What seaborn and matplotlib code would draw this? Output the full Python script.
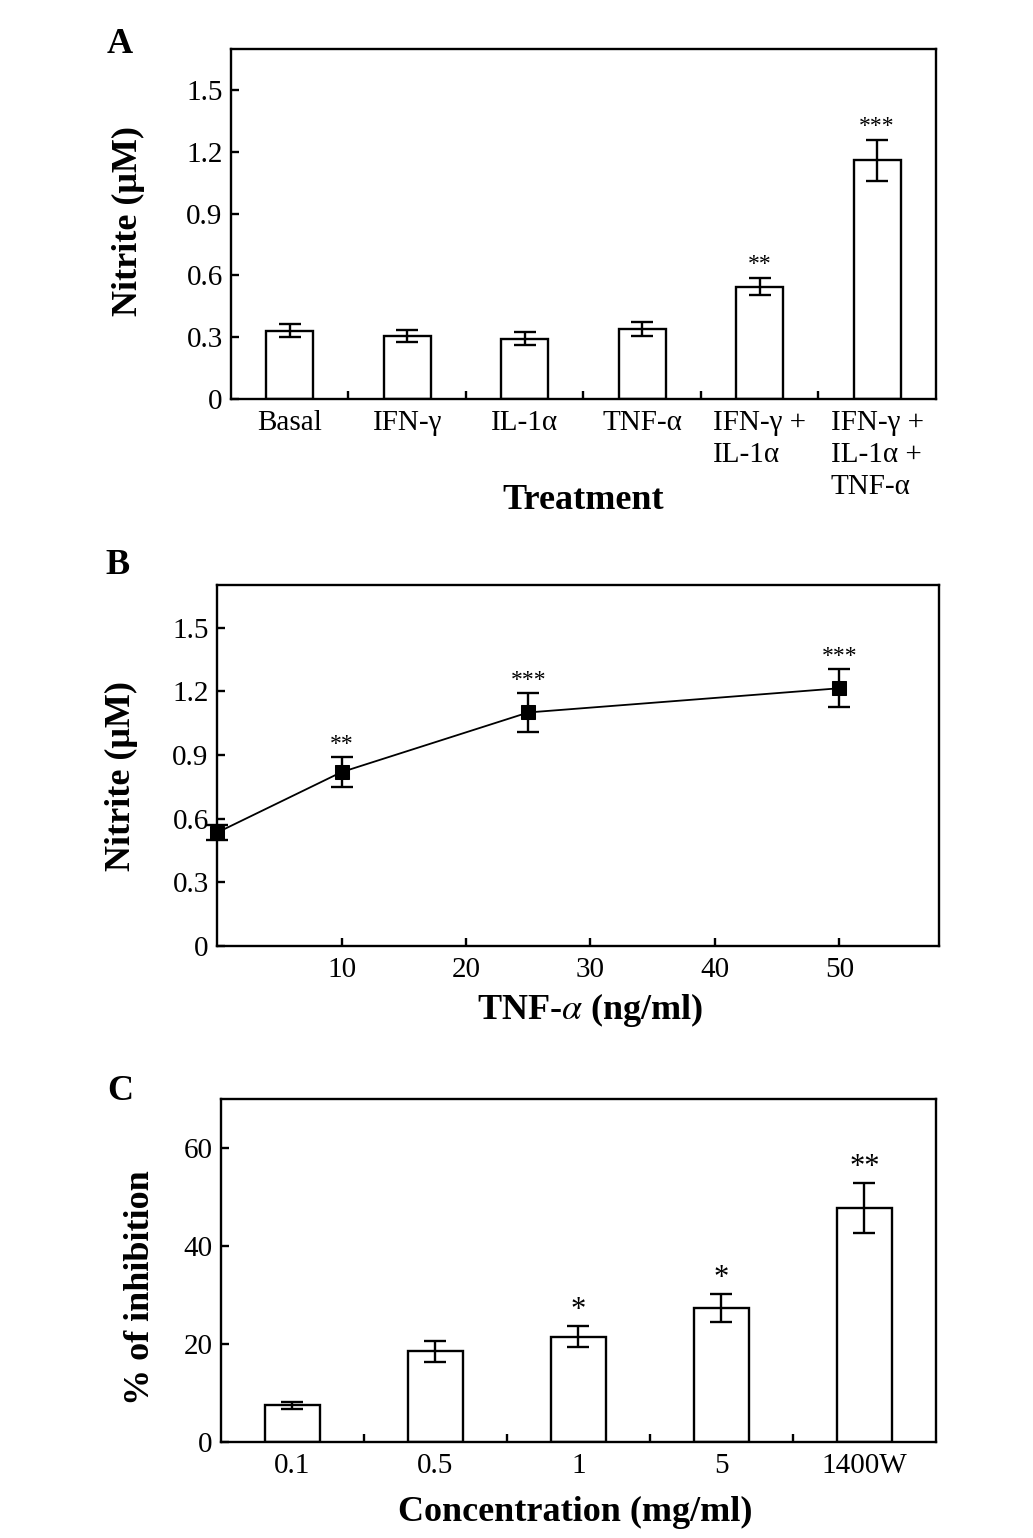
import numpy as np
import pandas as pd
import matplotlib
matplotlib.use("Agg")
import matplotlib.pyplot as plt
from matplotlib.ticker import FixedLocator, FixedFormatter
import seaborn as sns

# ---------------- data ----------------
a_categories = ["Basal", "IFN-γ", "IL-1α", "TNF-α", "IFN-γ +\nIL-1α", "IFN-γ +\nIL-1α +\nTNF-α"]
a_values = [0.332, 0.305, 0.292, 0.340, 0.546, 1.160]
a_errors = [0.032, 0.028, 0.032, 0.034, 0.042, 0.099]
a_stars = ["", "", "", "", "**", "***"]

b_dose = [0, 10, 25, 50]
b_values = [0.534, 0.819, 1.100, 1.214]
b_errors = [0.035, 0.070, 0.090, 0.090]
b_stars = ["", "**", "***", "***"]

c_categories = ["0.1", "0.5", "1", "5", "1400W"]
c_values = [7.5, 18.5, 21.5, 27.3, 47.8]
c_errors = [0.75, 2.1, 2.1, 2.85, 5.1]
c_stars = ["", "", "*", "*", "**"]

a_yticks = [0, 0.3, 0.6, 0.9, 1.2, 1.5]
a_yticklabels = ["0", "0.3", "0.6", "0.9", "1.2", "1.5"]
b_xticks = [10, 20, 30, 40, 50]
c_yticks = [0, 20, 40, 60]

# ---------------- style ----------------
sns.set_theme(style="white")
plt.rcParams["font.family"] = ["Liberation Serif", "DejaVu Serif"]
plt.rcParams["mathtext.fontset"] = "stix"
for k in ["text.color", "axes.labelcolor", "xtick.color", "ytick.color", "axes.edgecolor"]:
    plt.rcParams[k] = "black"

TICK_FS = 21
LABEL_FS = 26
STAR_FS = 17
LW = 1.7

fig = plt.figure(figsize=(10.33, 15.38), dpi=100)
axA = fig.add_axes([0.2236, 0.7406, 0.906 - 0.2236, 0.9681 - 0.7406])
axB = fig.add_axes([0.2101, 0.3849, 0.909 - 0.2101, 0.6196 - 0.3849])
axC = fig.add_axes([0.2139, 0.0624, 0.906 - 0.2139, 0.2854 - 0.0624])


def style_axes(ax):
    for s in ax.spines.values():
        s.set_visible(True)
        s.set_color("black")
        s.set_linewidth(LW)
    ax.tick_params(axis="both", which="both", direction="in", colors="black",
                   labelsize=TICK_FS, top=False, right=False, width=LW, length=6)
    ax.tick_params(axis="y", left=True, pad=6)
    ax.grid(False)


# ---------------- Panel A ----------------
dfA = pd.DataFrame({"cat": a_categories, "val": a_values})
sns.barplot(data=dfA, x="cat", y="val", ax=axA, color="white", edgecolor="black",
            linewidth=LW, width=0.40, errorbar=None, saturation=1)
xa = np.arange(len(a_categories))
axA.errorbar(xa, a_values, yerr=a_errors, fmt="none", ecolor="black",
             elinewidth=LW, capsize=8, capthick=LW)
for x, v, e, s in zip(xa, a_values, a_errors, a_stars):
    if s:
        axA.text(x, v + e + 0.012, s, ha="center", va="bottom", fontsize=STAR_FS)
axA.set_xlim(-0.5, len(a_categories) - 0.5)
axA.set_ylim(0, 1.7)
style_axes(axA)
axA.yaxis.set_major_locator(FixedLocator(a_yticks))
axA.yaxis.set_major_formatter(FixedFormatter(a_yticklabels))
axA.set_xticks(xa)
axA.set_xticklabels(a_categories, va="top", ha="center", multialignment="left",
                    linespacing=1.3)
axA.set_xticks(np.arange(0.5, len(a_categories) - 0.5, 1.0), minor=True)
axA.tick_params(axis="x", which="major", length=0, pad=8, bottom=True)
axA.tick_params(axis="x", which="minor", length=6, bottom=True)
axA.set_xlabel("Treatment", fontsize=LABEL_FS, fontweight="bold", va="center")
axA.xaxis.set_label_coords(0.50, -0.289)
axA.set_ylabel("Nitrite (μM)", fontsize=LABEL_FS, fontweight="bold", va="center")
axA.yaxis.set_label_coords(-0.146, 0.51)

# ---------------- Panel B ----------------
dfB = pd.DataFrame({"dose": b_dose, "val": b_values})
sns.lineplot(data=dfB, x="dose", y="val", ax=axB, color="black", linewidth=1.3,
             marker="s", markersize=10, markeredgecolor="black", markerfacecolor="black",
             clip_on=False)
axB.errorbar(b_dose, b_values, yerr=b_errors, fmt="none", ecolor="black",
             elinewidth=LW, capsize=8, capthick=LW, clip_on=False)
for x, v, e, s in zip(b_dose, b_values, b_errors, b_stars):
    if s:
        axB.text(x, v + e + 0.012, s, ha="center", va="bottom", fontsize=STAR_FS)
axB.set_xlim(0, 58)
axB.set_ylim(0, 1.7)
style_axes(axB)
axB.yaxis.set_major_locator(FixedLocator(a_yticks))
axB.yaxis.set_major_formatter(FixedFormatter(a_yticklabels))
axB.xaxis.set_major_locator(FixedLocator(b_xticks))
axB.xaxis.set_major_formatter(FixedFormatter([str(t) for t in b_xticks]))
axB.tick_params(axis="x", which="major", bottom=True, length=6, pad=8)
axB.set_xlabel("TNF-$\\alpha$ (ng/ml)", fontsize=LABEL_FS, fontweight="bold", va="center")
axB.xaxis.set_label_coords(0.517, -0.177)
axB.set_ylabel("Nitrite (μM)", fontsize=LABEL_FS, fontweight="bold", va="center")
axB.yaxis.set_label_coords(-0.132, 0.47)

# ---------------- Panel C ----------------
dfC = pd.DataFrame({"cat": c_categories, "val": c_values})
sns.barplot(data=dfC, x="cat", y="val", ax=axC, color="white", edgecolor="black",
            linewidth=LW, width=0.385, errorbar=None, saturation=1)
xc = np.arange(len(c_categories))
axC.errorbar(xc, c_values, yerr=c_errors, fmt="none", ecolor="black",
             elinewidth=LW, capsize=8, capthick=LW)
for x, v, e, s in zip(xc, c_values, c_errors, c_stars):
    if s:
        axC.text(x, v + e + 0.2, s, ha="center", va="bottom", fontsize=STAR_FS + 5)
axC.set_xlim(-0.5, len(c_categories) - 0.5)
axC.set_ylim(0, 70)
style_axes(axC)
axC.yaxis.set_major_locator(FixedLocator(c_yticks))
axC.yaxis.set_major_formatter(FixedFormatter([str(t) for t in c_yticks]))
axC.set_xticks(xc)
axC.set_xticklabels(c_categories)
axC.set_xticks(np.arange(0.5, len(c_categories) - 0.5, 1.0), minor=True)
axC.tick_params(axis="x", which="major", length=0, pad=8, bottom=True)
axC.tick_params(axis="x", which="minor", length=6, bottom=True)
axC.set_xlabel("Concentration (mg/ml)", fontsize=LABEL_FS, fontweight="bold", va="center")
axC.xaxis.set_label_coords(0.495, -0.204)
axC.set_ylabel("% of inhibition", fontsize=LABEL_FS, fontweight="bold", va="center")
axC.yaxis.set_label_coords(-0.113, 0.45)

# ---------------- panel letters ----------------
fig.text(0.116, 0.971, "A", fontsize=LABEL_FS, fontweight="bold", ha="center", va="center")
fig.text(0.114, 0.632, "B", fontsize=LABEL_FS, fontweight="bold", ha="center", va="center")
fig.text(0.116, 0.290, "C", fontsize=LABEL_FS, fontweight="bold", ha="center", va="center")

fig.savefig("out.png", dpi=100, facecolor="white")
